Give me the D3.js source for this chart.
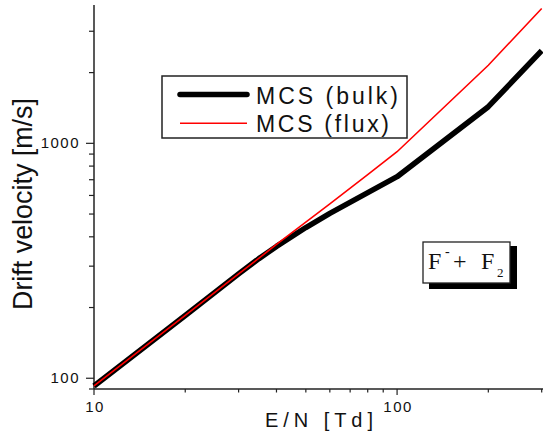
<!DOCTYPE html>
<html>
<head>
<meta charset="utf-8">
<script src="https://cdn.jsdelivr.net/npm/d3@7"></script>
<style>
  body { margin: 0; background: #fff; }
  svg { display: block; }
</style>
</head>
<body>
<svg id="chart"></svg>
<script>
// E/N values (Td) and drift velocities (m/s)
const fieldBulk = [10, 20, 30, 35, 40, 50, 60, 100, 200, 300];
const velBulk = [92.7, 185, 278, 323, 364, 438, 503, 721, 1432, 2480];
const fieldFlux = [10, 20, 30, 40, 60, 80, 100, 200, 300];
const velFlux = [92.7, 185, 278, 371, 552, 735, 921, 2150, 3750];

const xTickValues = [10, 20, 30, 40, 50, 60, 70, 80, 90, 100, 200, 300];
const yTickValues = [90, 100, 200, 300, 400, 500, 600, 700, 800, 900, 1000, 2000, 3000];
const xLabels = [10, 100];
const yLabels = [100, 1000];

const seriesNames = ["MCS (bulk)", "MCS (flux)"];

const width = 543, height = 438;
const svg = d3.select("#chart").attr("width", width).attr("height", height);

// scales
const x = d3.scaleLog().domain([10, 303]).range([94, 543]);
const y = d3.scaleLog().domain([90, 3880]).range([389, 5]);

const axisColor = "#222";
const sans = "Liberation Sans, Arial, sans-serif";

// bottom axis
const xAxis = svg.append("g").attr("transform", "translate(0,389)");
xAxis.append("line")
  .attr("x1", 94).attr("x2", 543).attr("y1", 0).attr("y2", 0)
  .attr("stroke", axisColor).attr("stroke-width", 1.5);
xAxis.selectAll(".tick").data(xTickValues).enter().append("line")
  .attr("x1", d => x(d)).attr("x2", d => x(d))
  .attr("y1", 0).attr("y2", d => xLabels.includes(d) ? 6 : 3.5)
  .attr("stroke", axisColor).attr("stroke-width", 1.2);
xAxis.selectAll(".lbl").data(xLabels).enter().append("text")
  .attr("x", d => x(d) + 1).attr("y", 23)
  .attr("text-anchor", "middle")
  .attr("font-family", sans)
  .attr("font-size", 15).attr("letter-spacing", 1.5)
  .attr("fill", "#111")
  .text(d => d);

// left axis
const yAxis = svg.append("g").attr("transform", "translate(94,0)");
yAxis.append("line")
  .attr("x1", 0).attr("x2", 0).attr("y1", 5).attr("y2", 389)
  .attr("stroke", axisColor).attr("stroke-width", 1.5);
yAxis.selectAll(".tick").data(yTickValues).enter().append("line")
  .attr("x1", d => yLabels.includes(d) ? -8 : -5).attr("x2", 0)
  .attr("y1", d => y(d)).attr("y2", d => y(d))
  .attr("stroke", axisColor).attr("stroke-width", 1.2);
yAxis.selectAll(".lbl").data(yLabels).enter().append("text")
  .attr("x", -14).attr("y", d => y(d) + 5)
  .attr("text-anchor", "end")
  .attr("font-family", sans)
  .attr("font-size", 15).attr("letter-spacing", 1.5)
  .attr("fill", "#111")
  .text(d => d);

// axis titles
svg.append("text")
  .attr("x", 265).attr("y", 427)
  .attr("font-family", sans)
  .attr("font-size", 20)
  .attr("textLength", 108).attr("lengthAdjust", "spacing")
  .attr("fill", "#111")
  .text("E/N [Td]");

svg.append("text")
  .attr("transform", "translate(32,310) rotate(-90)")
  .attr("font-family", sans)
  .attr("font-size", 28)
  .attr("textLength", 212).attr("lengthAdjust", "spacingAndGlyphs")
  .attr("fill", "#111")
  .text("Drift velocity [m/s]");

// curves
const line = d3.line().x(d => x(d[0])).y(d => y(d[1]));
const bulk = fieldBulk.map((f, i) => [f, velBulk[i]]);
const flux = fieldFlux.map((f, i) => [f, velFlux[i]]);

const plot = svg.append("g");
plot.append("path").datum(bulk)
  .attr("d", line).attr("fill", "none")
  .attr("stroke", "#000").attr("stroke-width", 5.5)
  .attr("stroke-linejoin", "round");
plot.append("path").datum(flux)
  .attr("d", line).attr("fill", "none")
  .attr("stroke", "#ff0000").attr("stroke-width", 1.6);

// legend
const legend = svg.append("g");
legend.append("rect")
  .attr("x", 162).attr("y", 76).attr("width", 245).attr("height", 62)
  .attr("fill", "#fff").attr("stroke", axisColor).attr("stroke-width", 1.5);
const legendRows = [
  { name: seriesNames[0], color: "#000", w: 5.5, ly: 94.5, ty: 103.5, len: 142 },
  { name: seriesNames[1], color: "#ff0000", w: 1.6, ly: 123.3, ty: 131.5, len: 133 }
];
legendRows.forEach(r => {
  legend.append("line")
    .attr("x1", 180).attr("x2", 247).attr("y1", r.ly).attr("y2", r.ly)
    .attr("stroke", r.color).attr("stroke-width", r.w)
    .attr("stroke-linecap", r.w > 3 ? "round" : "butt");
  legend.append("text")
    .attr("x", 256).attr("y", r.ty)
    .attr("font-family", sans)
    .attr("font-size", 23)
    .attr("textLength", r.len).attr("lengthAdjust", "spacing")
    .attr("fill", "#111")
    .text(r.name);
});

// reaction label with shadow box
const note = svg.append("g");
note.append("rect")
  .attr("x", 429).attr("y", 246).attr("width", 88).attr("height", 43)
  .attr("fill", "#000");
note.append("rect")
  .attr("x", 423).attr("y", 242).attr("width", 87).attr("height", 41)
  .attr("fill", "#fff").attr("stroke", axisColor).attr("stroke-width", 1.3);
const serif = "Liberation Serif, Times New Roman, serif";
const noteParts = [
  { t: "F", x: 428, y: 269, s: 24 },
  { t: "-", x: 445, y: 256, s: 14 },
  { t: "+", x: 453, y: 269, s: 24 },
  { t: "F", x: 481, y: 269, s: 24 },
  { t: "2", x: 497, y: 277, s: 13 }
];
note.selectAll(".part").data(noteParts).enter().append("text")
  .attr("x", d => d.x).attr("y", d => d.y)
  .attr("font-family", serif)
  .attr("font-size", d => d.s)
  .attr("fill", "#111")
  .text(d => d.t);
</script>
</body>
</html>
